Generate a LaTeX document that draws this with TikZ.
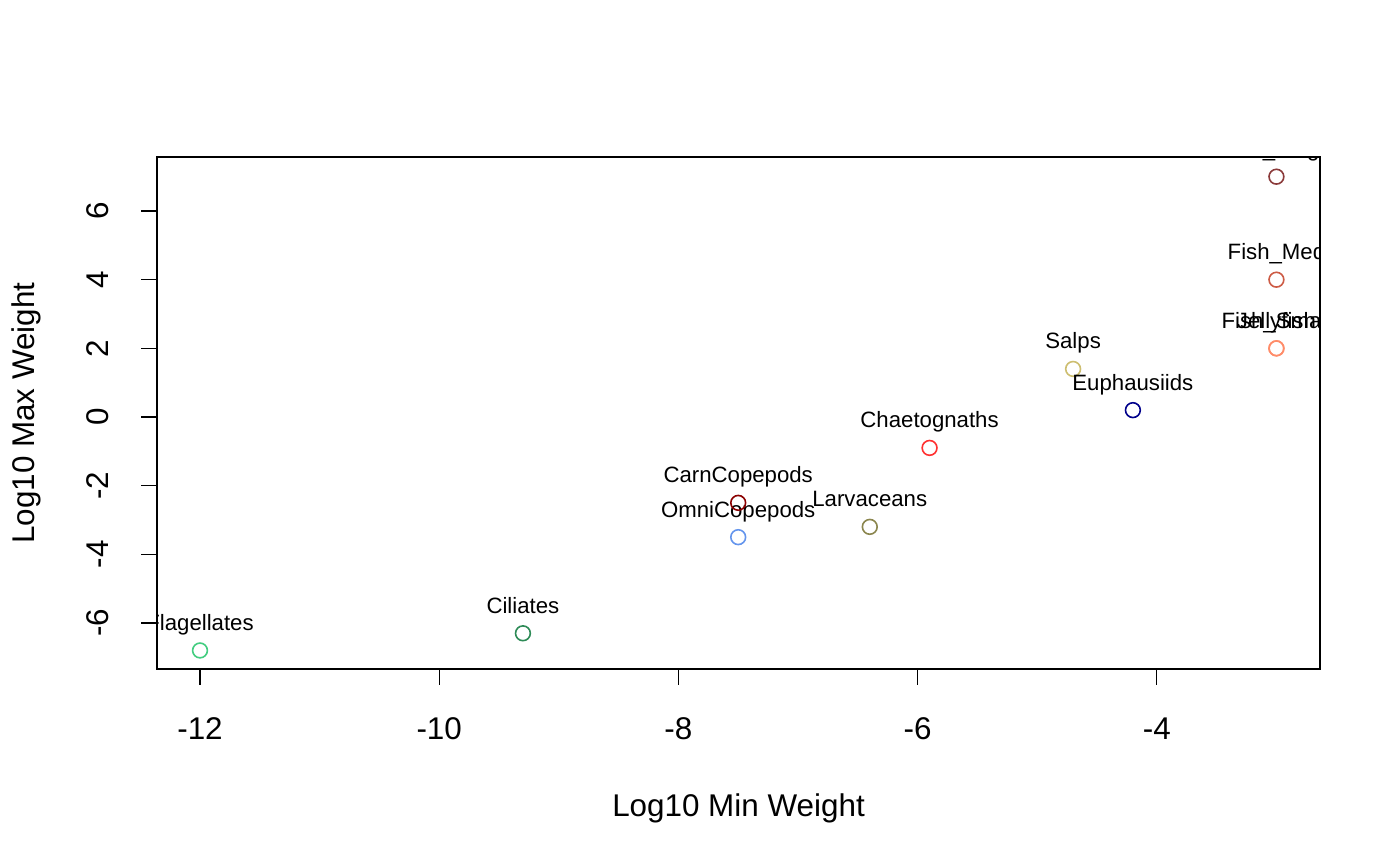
\documentclass[tikz,border=0pt]{standalone}
\usepackage{fontspec}
\setmainfont{Liberation Sans}
\definecolor{cFlag}{HTML}{43CD80}
\definecolor{cCil}{HTML}{2E8B57}
\definecolor{cOmni}{HTML}{6495ED}
\definecolor{cCarn}{HTML}{8B0000}
\definecolor{cLarv}{HTML}{8B864E}
\definecolor{cChae}{HTML}{FF3030}
\definecolor{cSalp}{HTML}{CDBE70}
\definecolor{cEuph}{HTML}{00008B}
\definecolor{cFishS}{HTML}{FF8C69}
\definecolor{cJelly}{HTML}{FF8C69}
\definecolor{cFishM}{HTML}{CD5B45}
\definecolor{cFishL}{HTML}{8B3A3A}
\tikzset{
  pt/.style={circle, draw=#1, line width=0.8pt, minimum size=7.4pt, inner sep=0pt},
  lab/.style={anchor=base, font=\fontsize{11.1}{13}\selectfont, inner sep=0pt},
  ticklab/.style={anchor=base, font=\fontsize{15.7}{18}\selectfont, inner sep=0pt},
  axtitle/.style={anchor=base, font=\fontsize{15.7}{18}\selectfont, inner sep=0pt},
  axline/.style={line width=0.6pt, line cap=rect}
}
\begin{document}
\begin{tikzpicture}[x=0.5pt,y=-0.5pt]
\useasboundingbox (0,0) rectangle (1400,866);
\fill[white] (0,0) rectangle (1400,866);
% plot box
\coordinate (bl) at (157,669);
\coordinate (tr) at (1320,157);
\draw[axline] (bl) rectangle (tr);
% x ticks
\foreach \v/\p [count=\i] in {-12/200,-10/439.2,-8/678.4,-6/917.6,-4/1156.8}{
  \coordinate (xt\i) at (\p,669);
  \coordinate (xe\i) at (\p,684);
  \draw[axline] (xt\i) -- (xe\i);
  \node[ticklab] (xl\i) at (\p,739) {\v};
}
% y ticks
\foreach \v/\p [count=\i] in {-6/623,-4/554.3,-2/485.7,0/417,2/348.3,4/279.7,6/211}{
  \coordinate (yt\i) at (157,\p);
  \coordinate (ye\i) at (142,\p);
  \draw[axline] (yt\i) -- (ye\i);
  \node[ticklab, rotate=90] (yl\i) at (108,\p) {\v};
}
% axis titles
\node[axtitle] (xtitle) at (738.5,816) {Log10 Min Weight};
\node[axtitle, rotate=90] (ytitle) at (34,413) {Log10 Max Weight};
% data
\begin{scope}
\clip (bl) rectangle (tr);
\begin{scope}[shift={(817.6pt,-208.5pt)}, x=59.8pt, y=17.165pt]
\foreach \n/\xx/\yy/\c/\t in {
  flag/-12/-6.8/cFlag/Flagellates,
  cil/-9.3/-6.3/cCil/Ciliates,
  omni/-7.5/-3.5/cOmni/OmniCopepods,
  carn/-7.5/-2.5/cCarn/CarnCopepods,
  larv/-6.4/-3.2/cLarv/Larvaceans,
  chae/-5.9/-0.9/cChae/Chaetognaths,
  salp/-4.7/1.4/cSalp/Salps,
  euph/-4.2/0.2/cEuph/Euphausiids,
  fishs/-3/2/cFishS/Fish\_Small,
  jelly/-3/2/cJelly/Jellyfish,
  fishm/-3/4/cFishM/Fish\_Med,
  fishl/-3/7/cFishL/Fish\_Large}{
  \node[pt=\c] (\n) at (\xx,\yy) {};
  \node[lab] (\n-l) at ([yshift=10pt]\n.center) {\t};
}
\end{scope}
\end{scope}
\end{tikzpicture}
\end{document}
